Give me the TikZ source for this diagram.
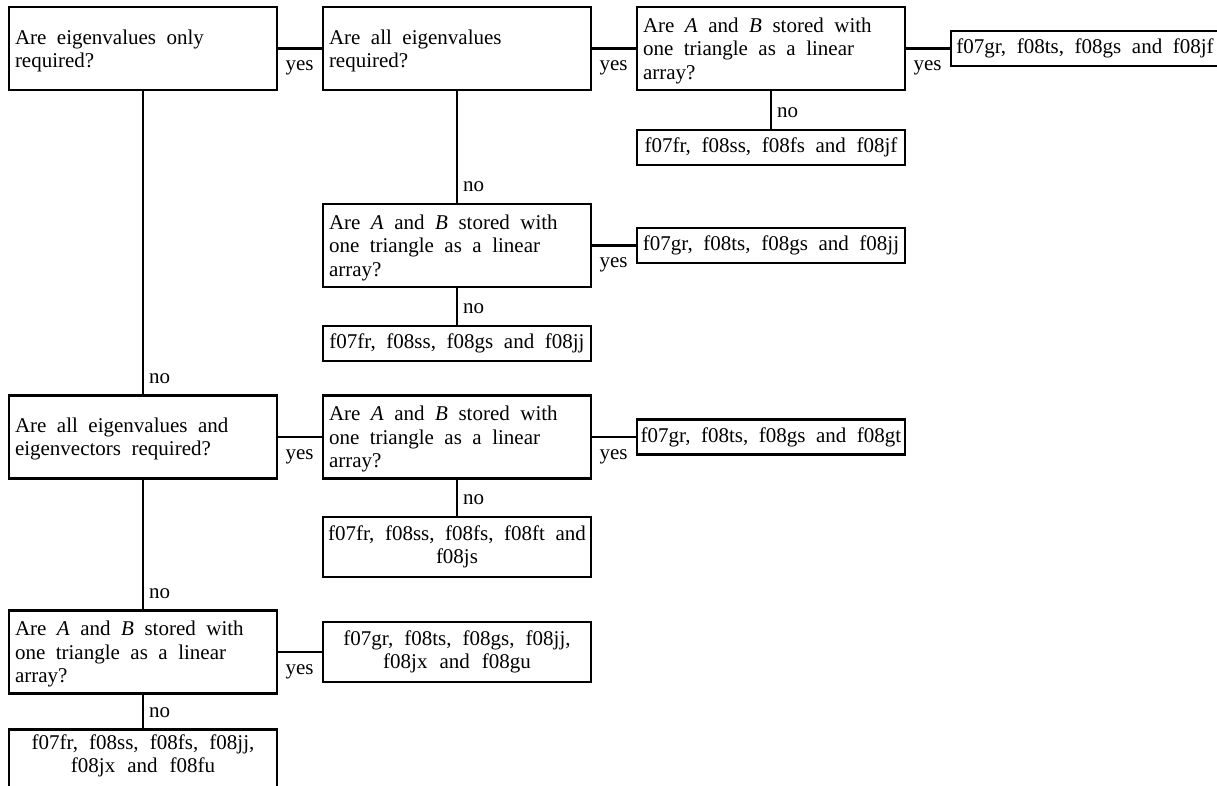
\documentclass[tikz,border=0pt]{standalone}
\usepackage{fontspec}
\setmainfont{Liberation Serif}
\usetikzlibrary{calc}
\newcommand{\widespaces}{\spaceskip=0.5em plus 0.05em minus 0.05em\xspaceskip=0.5em\relax}
\begin{document}
\begin{tikzpicture}[x=1pt,y=-1pt,
  every node/.style={font=\fontsize{21}{23.5}\selectfont, execute at begin node=\widespaces},
  qbox/.style={draw, line width=2.6pt, minimum width=268pt, minimum height=83pt,
               text width=256pt, inner xsep=6pt, align=left, text height=19pt},
  rbox/.style={draw, line width=2.6pt, minimum width=268pt, minimum height=35pt,
               text width=264pt, inner xsep=2pt, align=center},
  link/.style={line width=2.2pt},
  lbl/.style={inner sep=0pt, anchor=base west}]
\useasboundingbox (0,0) rectangle (1217,785);
\clip (0,0) rectangle (1217,785);

% decision boxes
\node[qbox] (b1) at (143,48.5) {Are eigenvalues only\\required?};
\node[qbox] (b2) at (457,48.5) {Are all eigenvalues\\required?};
\node[qbox] (b3) at (771,48.5) {Are \textit{A} and \textit{B} stored with\\one triangle as a linear\\array?};
\node[qbox] (b4) at (457,245.5) {Are \textit{A} and \textit{B} stored with\\one triangle as a linear\\array?};
\node[qbox] (b5) at (143,437) {Are all eigenvalues and\\eigenvectors required?};
\node[qbox] (b6) at (457,437) {Are \textit{A} and \textit{B} stored with\\one triangle as a linear\\array?};
\node[qbox] (b7) at (143,652) {Are \textit{A} and \textit{B} stored with\\one triangle as a linear\\array?};

% routine lists
\node[rbox] (r1) at (1085,48.5) {f07gr, f08ts, f08gs and f08jf};
\node[rbox] (r2) at (771,147.5) {f07fr, f08ss, f08fs and f08jf};
\node[rbox] (r3) at (771,245.5) {f07gr, f08ts, f08gs and f08jj};
\node[rbox] (r4) at (457,343.5) {f07fr, f08ss, f08gs and f08jj};
\node[rbox] (r5) at (771,437) {f07gr, f08ts, f08gs and f08gt};
\node[rbox, minimum height=60pt] (r6) at (457,547) {f07fr, f08ss, f08fs, f08ft and\\f08js};
\node[rbox, minimum height=60pt] (r7) at (457,652) {f07gr, f08ts, f08gs, f08jj,\\f08jx and f08gu};
\node[rbox, anchor=north, text height=15pt, text depth=45pt, inner ysep=5pt] (r8) at (143,728)
  {f07fr, f08ss, f08fs, f08jj,\\f08jx and f08fu};

% "yes" branches
\draw[link] (b1.east) -- (b2.west);
\draw[link] (b2.east) -- (b3.west);
\draw[link] (b3.east) -- (r1.west);
\draw[link] (b4.east) -- (r3.west);
\draw[link] (b5.east) -- (b6.west);
\draw[link] (b6.east) -- (r5.west);
\draw[link] (b7.east) -- (r7.west);
\node[lbl] (y1) at ($(b1.east)+(7,22)$) {yes};
\node[lbl] (y2) at ($(b2.east)+(7,22)$) {yes};
\node[lbl] (y3) at ($(b3.east)+(7,22)$) {yes};
\node[lbl] (y4) at ($(b4.east)+(7,22)$) {yes};
\node[lbl] (y5) at ($(b5.east)+(7,22)$) {yes};
\node[lbl] (y6) at ($(b6.east)+(7,22)$) {yes};
\node[lbl] (y7) at ($(b7.east)+(7,22)$) {yes};

% "no" branches
\draw[link] (b1.south) -- (b5.north);
\draw[link] (b2.south) -- (b4.north);
\draw[link] (b3.south) -- (r2.north);
\draw[link] (b4.south) -- (r4.north);
\draw[link] (b5.south) -- (b7.north);
\draw[link] (b6.south) -- (r6.north);
\draw[link] (b7.south) -- (r8.north);
\node[lbl] (n1) at ($(b5.north)+(6,-11)$) {no};
\node[lbl] (n2) at ($(b4.north)+(6,-11)$) {no};
\node[lbl] (n3) at ($(r2.north)+(6,-11)$) {no};
\node[lbl] (n4) at ($(r4.north)+(6,-11)$) {no};
\node[lbl] (n5) at ($(b7.north)+(6,-11)$) {no};
\node[lbl] (n6) at ($(r6.north)+(6,-11)$) {no};
\node[lbl] (n7) at ($(r8.north)+(6,-11)$) {no};
\end{tikzpicture}
\end{document}
